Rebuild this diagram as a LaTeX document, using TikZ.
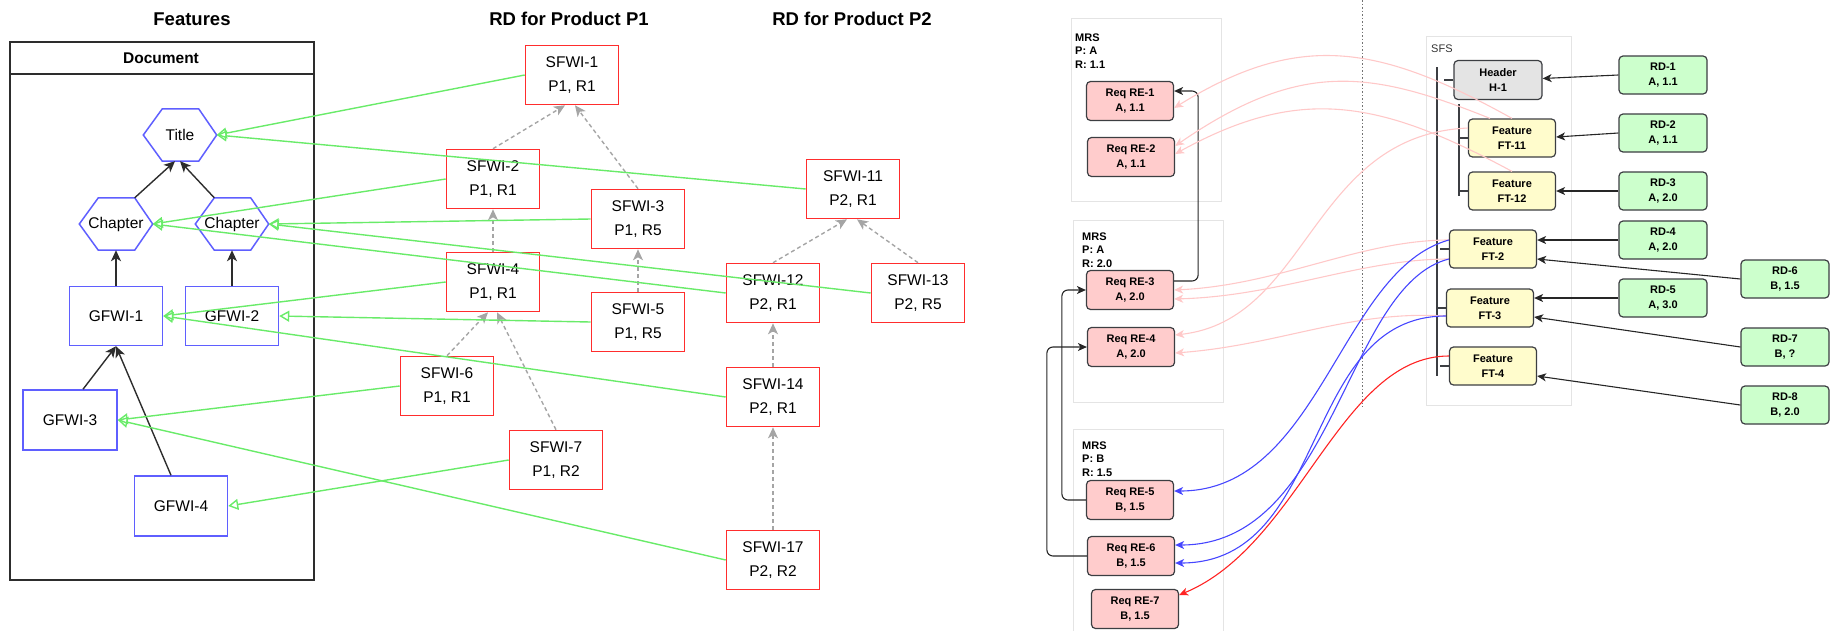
\documentclass[tikz,border=0pt]{standalone}
\usepackage{fontspec}
\setmainfont{Liberation Sans}
\usetikzlibrary{arrows.meta}

\definecolor{featblue}{RGB}{95,95,255}
\definecolor{sfwired}{RGB}{255,45,45}
\definecolor{tracegreen}{RGB}{105,235,105}
\definecolor{inhgray}{RGB}{165,165,165}
\definecolor{docedge}{RGB}{45,45,45}
\definecolor{reqfill}{RGB}{255,204,204}
\definecolor{rdfill}{RGB}{204,255,204}
\definecolor{ftfill}{RGB}{255,252,204}
\definecolor{hdrfill}{RGB}{228,228,228}
\definecolor{boxedge}{RGB}{60,62,66}
\definecolor{groupedge}{RGB}{228,228,228}
\definecolor{pinkline}{RGB}{255,200,200}
\definecolor{blueline}{RGB}{70,70,255}
\definecolor{redline}{RGB}{255,35,35}

\tikzset{
  sectitle/.style={font=\fontsize{18.5}{22}\selectfont\bfseries},
  doctitle/.style={font=\fontsize{15.5}{18}\selectfont\bfseries},
  featbox/.style={draw=featblue, line width=1.5pt, minimum width=93pt, minimum height=59pt,
    inner sep=0pt, font=\fontsize{15.5}{18}\selectfont},
  hexnode/.style={minimum width=73pt, minimum height=52pt, inner sep=0pt,
    font=\fontsize{15.5}{18}\selectfont},
  hexedge/.style={draw=featblue, line width=1.5pt, line join=miter},
  sfwibox/.style={draw=sfwired, fill=white, line width=1.6pt, minimum width=93pt, minimum height=59pt,
    inner sep=0pt, align=center, font=\fontsize{15.5}{24}\selectfont},
  trace/.style={draw=tracegreen, line width=1.4pt,
    -{Triangle[open, length=10pt, width=11pt, line width=1.4pt]}},
  inherit/.style={draw=inhgray, line width=1.4pt, dash pattern=on 4pt off 3pt,
    -{Stealth[length=11pt, width=10pt, inset=3pt]}},
  struct/.style={draw=docedge, line width=1.4pt, -{Stealth[length=11pt, width=10pt, inset=3pt]}},
  grouprect/.style={draw=groupedge, line width=1pt},
  grouplabel/.style={align=left, inner sep=0pt, font=\fontsize{11}{13.5}\selectfont\bfseries},
  reqbox/.style={rounded corners=4pt, draw=boxedge, fill=reqfill, line width=1.2pt,
    minimum width=87pt, minimum height=39pt, inner sep=0pt, align=center,
    font=\fontsize{11}{15}\selectfont\bfseries},
  rdbox/.style={reqbox, fill=rdfill, minimum width=88pt, minimum height=38pt},
  ftbox/.style={reqbox, fill=ftfill, minimum height=38pt},
  hdrbox/.style={reqbox, fill=hdrfill, minimum width=88pt},
  tree/.style={draw=boxedge, line width=1.2pt},
  link/.style={draw=black!85, line width=1.1pt, -{Stealth[length=9pt, width=8pt, inset=2.5pt]}},
  pinklink/.style={draw=pinkline, line width=1.1pt, -{Stealth[length=9pt, width=8pt, inset=2.5pt]}},
  bluelink/.style={draw=blueline, line width=1.1pt, -{Stealth[length=9pt, width=8pt, inset=2.5pt]}},
  redlink/.style={draw=redline, line width=1.1pt, -{Stealth[length=9pt, width=8pt, inset=2.5pt]}},
}

% flat-topped hexagon around a named node
\newcommand\hexframe[1]{%
  \draw[hexedge] (#1.west) -- ([xshift=19pt]#1.north west) -- ([xshift=-18pt]#1.north east)
    -- (#1.east) -- ([xshift=-18pt]#1.south east) -- ([xshift=19pt]#1.south west) -- cycle;}

\begin{document}
\begin{tikzpicture}[x=1pt, y=-1pt]
\useasboundingbox (0,0) rectangle (1831,630);

% ---------------- section headings ----------------
\node[sectitle] (hfeat) at (192,19) {Features};
\node[sectitle] (hp1) at (569,19) {RD for Product P1};
\node[sectitle] (hp2) at (852,19) {RD for Product P2};

% ---------------- feature document ----------------
\node[draw=docedge, line width=1.5pt, minimum width=304pt, minimum height=538pt, inner sep=0pt,
      anchor=north west] (doc) at (9,41) {};
\draw[draw=docedge, line width=1.3pt] (9,74) -- (313,74);
\node[doctitle] (doclabel) at (161,58) {Document};

\node[hexnode] (title) at (180,135) {Title};
\node[hexnode] (chl) at (116,224) {Chapter};
\node[hexnode] (chr) at (232,224) {Chapter};
\hexframe{title}
\hexframe{chl}
\hexframe{chr}

\node[featbox] (g1) at (116,316) {GFWI-1};
\node[featbox] (g2) at (232,316) {GFWI-2};
\node[featbox, minimum width=94pt, minimum height=60pt] (g3) at (70,420) {GFWI-3};
\node[featbox, minimum height=60pt] (g4) at (181,506) {GFWI-4};

\draw[struct] ([xshift=-18pt]chl.north east) -- ([xshift=-5pt]title.south);
\draw[struct] ([xshift=19pt]chr.north west) -- (title.south);
\draw[struct] (g1.north) -- (chl.south);
\draw[struct] (g2.north) -- (chr.south);
\draw[struct] ([xshift=13pt]g3.north) -- (g1.south);
\draw[struct] ([xshift=-10pt]g4.north) -- (g1.south);

% ---------------- software work items ----------------
\node[sfwibox] (s1) at (572,75) {SFWI-1\\P1, R1};
\node[sfwibox] (s2) at (493,179) {SFWI-2\\P1, R1};
\node[sfwibox] (s3) at (638,219) {SFWI-3\\P1, R5};
\node[sfwibox] (s4) at (493,282) {SFWI-4\\P1, R1};
\node[sfwibox] (s5) at (638,322) {SFWI-5\\P1, R5};
\node[sfwibox] (s6) at (447,386) {SFWI-6\\P1, R1};
\node[sfwibox] (s7) at (556,460) {SFWI-7\\P1, R2};
\node[sfwibox] (s11) at (853,189) {SFWI-11\\P2, R1};
\node[sfwibox] (s12) at (773,293) {SFWI-12\\P2, R1};
\node[sfwibox] (s13) at (918,293) {SFWI-13\\P2, R5};
\node[sfwibox] (s14) at (773,397) {SFWI-14\\P2, R1};
\node[sfwibox] (s17) at (773,560) {SFWI-17\\P2, R2};

\draw[inherit] (s2.north) -- ([xshift=-7pt]s1.south);
\draw[inherit] (s3.north) -- ([xshift=3pt]s1.south);
\draw[inherit] (s4.north) -- (s2.south);
\draw[inherit] (s5.north) -- (s3.south);
\draw[inherit] (s6.north) -- ([xshift=-5pt]s4.south);
\draw[inherit] (s7.north) -- ([xshift=4pt]s4.south);
\draw[inherit] (s12.north) -- ([xshift=-6pt]s11.south);
\draw[inherit] (s13.north) -- ([xshift=4pt]s11.south);
\draw[inherit] (s14.north) -- (s12.south);
\draw[inherit] (s17.north) -- (s14.south);

% trace links from work items to features
\draw[trace] (s1.west) -- (title.east);
\draw[trace] (s11.west) -- (title.east);
\draw[trace] (s2.west) -- (chl.east);
\draw[trace] (s12.west) -- (chl.east);
\draw[trace] (s3.west) -- (chr.east);
\draw[trace] (s13.west) -- (chr.east);
\draw[trace] (s4.west) -- (g1.east);
\draw[trace] (s14.west) -- (g1.east);
\draw[trace] (s5.west) -- (g2.east);
\draw[trace] (s6.west) -- (g3.east);
\draw[trace] (s17.west) -- (g3.east);
\draw[trace] (s7.west) -- (g4.east);

% ---------------- requirement specifications ----------------
\draw[draw=black!55, line width=0.8pt, dash pattern=on 1.5pt off 2pt] (1362,0) -- (1362,407);

\draw[grouprect] (1071,18) rectangle (1221,201);
\draw[grouprect] (1073,220) rectangle (1223,402);
\draw[grouprect] (1073,632) -- (1073,429) -- (1223,429) -- (1223,632);
\node[grouplabel, anchor=west] (m1) at (1075,51) {MRS\\P: A\\R: 1.1};
\node[grouplabel, anchor=west] (m2) at (1082,250) {MRS\\P: A\\R: 2.0};
\node[grouplabel, anchor=west] (m3) at (1082,459) {MRS\\P: B\\R: 1.5};

\node[reqbox] (re1) at (1130,101) {Req RE-1\\A, 1.1};
\node[reqbox] (re2) at (1131,157) {Req RE-2\\A, 1.1};
\node[reqbox] (re3) at (1130,290) {Req RE-3\\A, 2.0};
\node[reqbox] (re4) at (1131,347) {Req RE-4\\A, 2.0};
\node[reqbox] (re5) at (1130,500) {Req RE-5\\B, 1.5};
\node[reqbox] (re6) at (1131,556) {Req RE-6\\B, 1.5};
\node[reqbox] (re7) at (1135,609) {Req RE-7\\B, 1.5};

\draw[link, rounded corners=6pt] ([yshift=9pt]re3.east) -- ++(24,0) |- ([yshift=10pt]re1.east);
\draw[link, rounded corners=6pt] (re5.west) -- ++(-24,0) |- (re3.west);
\draw[link, rounded corners=6pt] (re6.west) -- ++(-40,0) |- (re4.west);

% ---------------- SFS tree ----------------
\draw[grouprect] (1426,36) rectangle (1571,405);
\node[anchor=west, inner sep=0pt, text=black!80, font=\fontsize{11}{13}\selectfont] (sfs) at (1431,49) {SFS};
\draw[tree] (1437,67) -- (1437,376);
\draw[tree] (1459,104) -- (1459,196);

\node[hdrbox] (h1) at (1498,80) {Header\\H-1};
\node[ftbox] (ft11) at (1512,138) {Feature\\FT-11};
\node[ftbox] (ft12) at (1512,191) {Feature\\FT-12};
\node[ftbox] (ft2) at (1493,249) {Feature\\FT-2};
\node[ftbox] (ft3) at (1490,308) {Feature\\FT-3};
\node[ftbox] (ft4) at (1493,366) {Feature\\FT-4};

\draw[tree] (h1.west) -- ++(-9,0);
\draw[tree] (ft11.west) -- ++(-10,0);
\draw[tree] (ft12.west) -- ++(-10,0);
\draw[tree] (ft2.west) -- ++(-9,0);
\draw[tree] (ft3.west) -- ++(-9,0);
\draw[tree] (ft4.west) -- ++(-9,0);

% ---------------- requirement documents ----------------
\node[rdbox] (rd1) at (1663,75) {RD-1\\A, 1.1};
\node[rdbox] (rd2) at (1663,133) {RD-2\\A, 1.1};
\node[rdbox] (rd3) at (1663,191) {RD-3\\A, 2.0};
\node[rdbox] (rd4) at (1663,240) {RD-4\\A, 2.0};
\node[rdbox] (rd5) at (1663,298) {RD-5\\A, 3.0};
\node[rdbox] (rd6) at (1785,279) {RD-6\\B, 1.5};
\node[rdbox] (rd7) at (1785,347) {RD-7\\B, ?};
\node[rdbox] (rd8) at (1785,405) {RD-8\\B, 2.0};

\draw[link] (rd1.west) -- ([yshift=1.5pt]h1.east);
\draw[link] (rd2.west) -- ([yshift=1pt]ft11.east);
\draw[link] (rd3.west) -- (ft12.east);
\draw[link] (rd4.west) -- ([yshift=9pt]ft2.east);
\draw[link] (rd6.west) -- ([yshift=-10pt]ft2.east);
\draw[link] (rd5.west) -- ([yshift=10pt]ft3.east);
\draw[link] (rd7.west) -- ([yshift=-9pt]ft3.east);
\draw[link] (rd8.west) -- ([yshift=-10pt]ft4.east);

% ---------------- feature to requirement links ----------------
\draw[pinklink] (ft11.north) .. controls (1380,45) and (1300,30) .. ([yshift=-7pt]re1.east);
\draw[pinklink] ([xshift=-22pt]ft11.north) .. controls (1370,70) and (1300,60) .. ([yshift=11pt]re2.east);
\draw[pinklink] (ft12.north) .. controls (1380,100) and (1300,85) .. ([yshift=3pt]re2.east);
\draw[pinklink] ([yshift=10pt]ft11.west) .. controls (1310,135) and (1310,320) .. ([yshift=12pt]re4.east);
\draw[pinklink] ([yshift=9pt]ft2.west) .. controls (1360,240) and (1280,285) .. (re3.east);
\draw[pinklink] ([yshift=-10pt]ft2.west) .. controls (1360,259) and (1280,296) .. ([yshift=-9pt]re3.east);
\draw[pinklink] ([yshift=-8pt]ft3.west) .. controls (1350,310) and (1280,345) .. ([yshift=-6pt]re4.east);

\draw[bluelink] ([yshift=9pt]ft2.west) .. controls (1340,270) and (1320,491) .. ([yshift=9pt]re5.east);
\draw[bluelink] ([yshift=-10pt]ft2.west) .. controls (1345,285) and (1335,545) .. ([yshift=11pt]re6.east);
\draw[bluelink] ([yshift=-8pt]ft3.west) .. controls (1300,316) and (1330,563) .. ([yshift=-7pt]re6.east);
\draw[redlink] ([yshift=10pt]ft4.west) .. controls (1340,356) and (1300,545) .. ([yshift=14pt]re7.east);

\end{tikzpicture}
\end{document}
